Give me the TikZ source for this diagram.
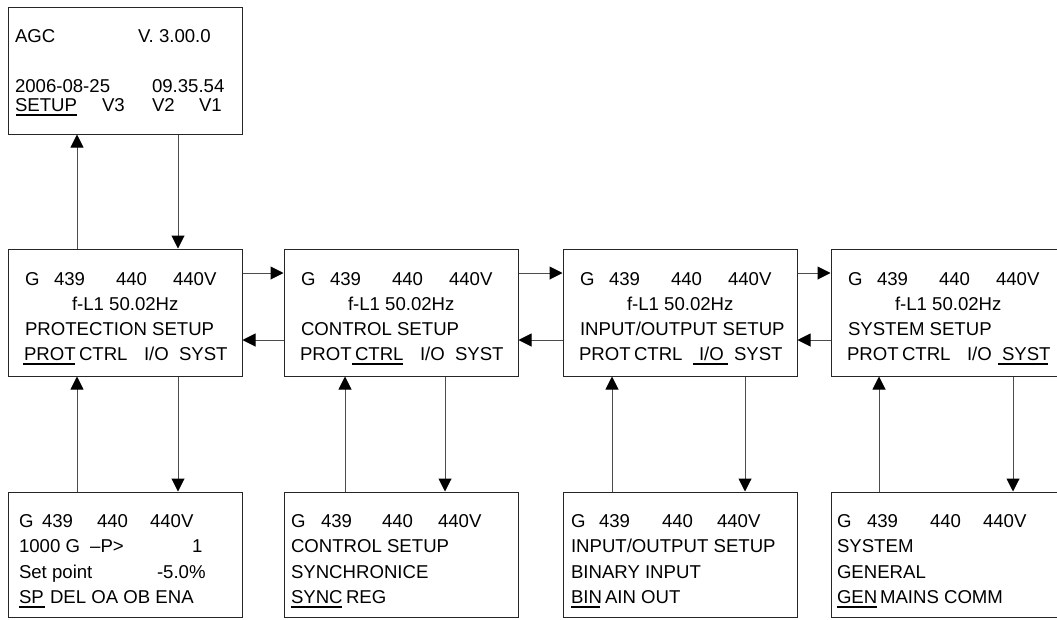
\documentclass[tikz,border=0pt]{standalone}
\usepackage{fontspec}
\setmainfont{Liberation Sans}
\usetikzlibrary{arrows.meta}
\tikzset{
  screen/.style={draw=black!85, line width=1pt, rectangle, inner sep=0pt, minimum width=234pt},
  mid/.style={screen, minimum height=127pt},
  low/.style={screen, minimum height=125pt},
  txt/.style={anchor=base west, inner sep=0pt, outer sep=0pt},
  arr/.style={draw=black!70, line width=1pt, -{Triangle[length=13pt,width=13pt,color=black]}},
  uline/.style={line width=1.4pt, black}
}
\begin{document}
\begin{tikzpicture}[x=1pt,y=-1pt,font=\fontsize{18.6}{22}\selectfont]
\useasboundingbox (0,0) rectangle (1057,619);
\clip (0,0) rectangle (1057,619);
% boxes
\node[mid] (top) at (125,70.5) {};
\node[mid] (m1) at (125,312.5) {};
\node[mid] (m2) at (401,312.5) {};
\node[mid] (m3) at (680,312.5) {};
\node[mid] (m4) at (948,312.5) {};
\node[low] (b1) at (125,554.5) {};
\node[low] (b2) at (401,554.5) {};
\node[low] (b3) at (680,554.5) {};
\node[low] (b4) at (948,554.5) {};
% top box text
\node[txt] (t1) at (15,42) {AGC};
\node[txt] (t2) at (138,42) {V. 3.00.0};
\node[txt] (t3) at (15,92) {2006-08-25};
\node[txt] (t4) at (152,92) {09.35.54};
\node[txt] (t5) at (15,111) {SETUP};
\node[txt] (t6) at (102,111) {V3};
\node[txt] (t7) at (152,111) {V2};
\node[txt] (t8) at (199,111) {V1};
\draw[uline] (16,115) -- (77,115);
% middle boxes text
\foreach \L/\n/\title in {8/1/{PROTECTION SETUP}, 284/2/{CONTROL SETUP}, 563/3/{INPUT/OUTPUT SETUP}, 831/4/{SYSTEM SETUP}}{
  \node[txt] (m\n g) at (\L+17,285) {G};
  \node[txt] (m\n a) at (\L+46,285) {439};
  \node[txt] (m\n b) at (\L+108,285) {440};
  \node[txt] (m\n c) at (\L+165,285) {440V};
  \node[txt] (m\n f) at (\L+64,310) {f-L1 50.02Hz};
  \node[txt] (m\n t) at (\L+17,335) {\title};
  \node[txt] (m\n p) at (\L+16,360) {PROT};
  \node[txt] (m\n q) at (\L+71,360) {CTRL};
  \node[txt] (m\n r) at (\L+136,360) {I/O};
  \node[txt] (m\n s) at (\L+171,360) {SYST};
}
\draw[uline] (23,364) -- (75,364);
\draw[uline] (352,364) -- (403,364);
\draw[uline] (693,364) -- (728,364);
\draw[uline] (998,364) -- (1048,364);
% bottom box 1
\node[txt] (b1g) at (19,527) {G};
\node[txt] (b1a) at (42,527) {439};
\node[txt] (b1b) at (97,527) {440};
\node[txt] (b1c) at (150,527) {440V};
\node[txt] (b1d) at (19,552) {1000 G\hspace{5pt} –P>};
\node[txt] (b1e) at (192,552) {1};
\node[txt] (b1f) at (19,578) {Set point};
\node[txt] (b1h) at (157,578) {-5.0\%};
\node[txt] (b1i) at (19,603) {SP};
\node[txt] (b1j) at (50,603) {DEL OA OB ENA};
\draw[uline] (19,607) -- (45,607);
% bottom box 2
\node[txt] (b2g) at (291,527) {G};
\node[txt] (b2a) at (321,527) {439};
\node[txt] (b2b) at (382,527) {440};
\node[txt] (b2c) at (438,527) {440V};
\node[txt] (b2d) at (291,552) {CONTROL SETUP};
\node[txt] (b2e) at (291,578) {SYNCHRONICE};
\node[txt] (b2f) at (291,603) {SYNC};
\node[txt] (b2h) at (346,603) {REG};
\draw[uline] (291,607) -- (342,607);
% bottom box 3
\node[txt] (b3g) at (571,527) {G};
\node[txt] (b3a) at (599,527) {439};
\node[txt] (b3b) at (662,527) {440};
\node[txt] (b3c) at (717,527) {440V};
\node[txt] (b3d) at (571,552) {INPUT/OUTPUT SETUP};
\node[txt] (b3e) at (571,578) {BINARY INPUT};
\node[txt] (b3f) at (571,603) {BIN};
\node[txt] (b3h) at (605,603) {AIN OUT};
\draw[uline] (571,607) -- (600,607);
% bottom box 4
\node[txt] (b4g) at (837,527) {G};
\node[txt] (b4a) at (867,527) {439};
\node[txt] (b4b) at (930,527) {440};
\node[txt] (b4c) at (983,527) {440V};
\node[txt] (b4d) at (837,552) {SYSTEM};
\node[txt] (b4e) at (837,578) {GENERAL};
\node[txt] (b4f) at (837,603) {GEN};
\node[txt] (b4h) at (880,603) {MAINS COMM};
\draw[uline] (837,607) -- (877,607);
% guide coordinates
\coordinate (yr) at (0,273);
\coordinate (yl) at (0,340);
\coordinate (x1u) at (77,0);  \coordinate (x1d) at (178,0);
\coordinate (x2u) at (345,0); \coordinate (x2d) at (445,0);
\coordinate (x3u) at (612,0); \coordinate (x3d) at (745,0);
\coordinate (x4u) at (879,0); \coordinate (x4d) at (1013,0);
% top connectors
\draw[arr] (m1.north -| x1u) -- (top.south -| x1u);
\draw[arr] (top.south -| x1d) -- (m1.north -| x1d);
% horizontal connectors
\draw[arr] (m1.east |- yr) -- (m2.west |- yr);
\draw[arr] (m2.east |- yr) -- (m3.west |- yr);
\draw[arr] (m3.east |- yr) -- (m4.west |- yr);
\draw[arr] (m2.west |- yl) -- (m1.east |- yl);
\draw[arr] (m3.west |- yl) -- (m2.east |- yl);
\draw[arr] (m4.west |- yl) -- (m3.east |- yl);
% vertical connectors
\draw[arr] (b1.north -| x1u) -- (m1.south -| x1u);
\draw[arr] (m1.south -| x1d) -- (b1.north -| x1d);
\draw[arr] (b2.north -| x2u) -- (m2.south -| x2u);
\draw[arr] (m2.south -| x2d) -- (b2.north -| x2d);
\draw[arr] (b3.north -| x3u) -- (m3.south -| x3u);
\draw[arr] (m3.south -| x3d) -- (b3.north -| x3d);
\draw[arr] (b4.north -| x4u) -- (m4.south -| x4u);
\draw[arr] (m4.south -| x4d) -- (b4.north -| x4d);
\end{tikzpicture}
\end{document}
